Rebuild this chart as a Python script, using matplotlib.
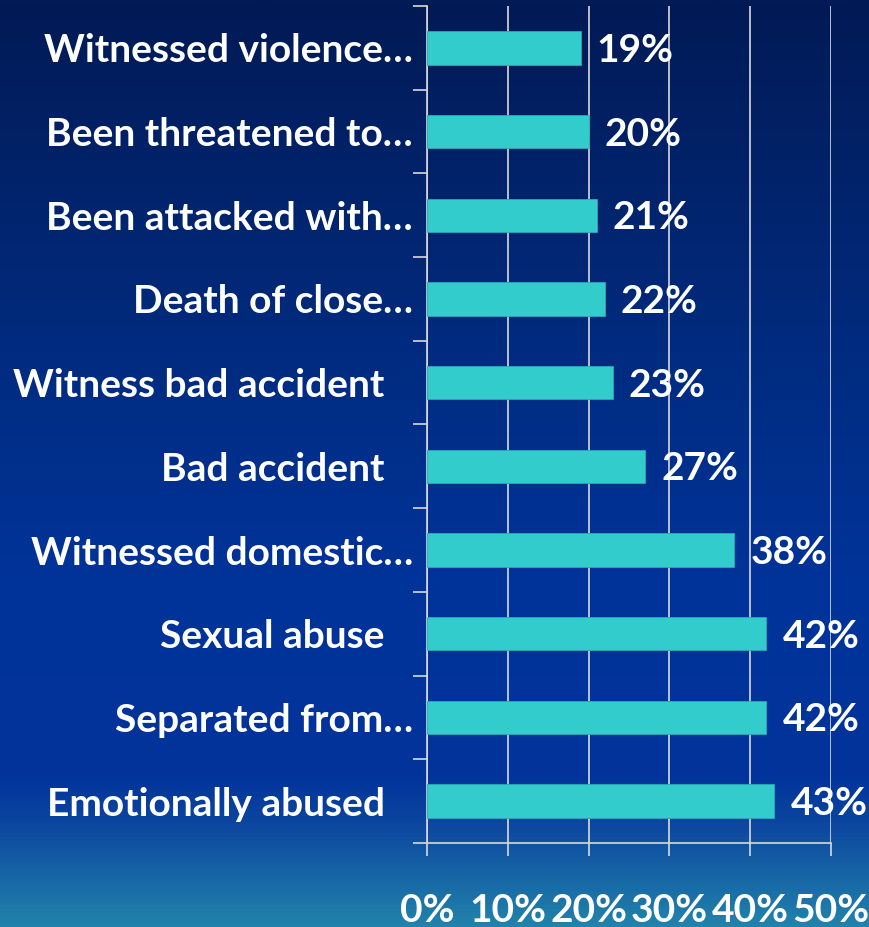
import numpy as np
import matplotlib
matplotlib.use('Agg')
import matplotlib.pyplot as plt
from matplotlib.colors import LinearSegmentedColormap
from matplotlib.ticker import FixedLocator, PercentFormatter

plt.rcParams['font.family'] = ['Lato', 'DejaVu Sans']
plt.rcParams['font.weight'] = 'bold'

# Trauma experiences, listed top to bottom
categories = [
    'Witnessed violence\u2026',
    'Been threatened to\u2026',
    'Been attacked with\u2026',
    'Death of close\u2026',
    'Witness bad accident   ',
    'Bad accident   ',
    'Witnessed domestic\u2026',
    'Sexual abuse   ',
    'Separated from\u2026',
    'Emotionally abused   ',
]
percents = [19, 20, 21, 22, 23, 27, 38, 42, 42, 43]
x_ticks = [0, 10, 20, 30, 40, 50]

bar_color = '#33CCCC'
line_color = '#D9D9D9'
font_size = 28

fig = plt.figure(figsize=(8.7, 9.27), dpi=100)

# Vertical gradient backdrop: navy at the top, royal blue, then teal at the bottom
bg = fig.add_axes([0, 0, 1, 1], zorder=-10)
bg_cmap = LinearSegmentedColormap.from_list('bg', [
    (0.00, '#021a55'),
    (0.35, '#012a7c'),
    (0.62, '#003399'),
    (0.84, '#02349c'),
    (0.89, '#0c469f'),
    (1.00, '#2183ab'),
])
grad = np.linspace(0, 1, 512).reshape(-1, 1)
bg.imshow(grad, aspect='auto', cmap=bg_cmap, extent=[0, 1, 0, 1], origin='upper')
bg.set_axis_off()

ax = fig.add_axes([427 / 870, 1 - 843 / 927, 404 / 870, 837 / 927])
ax.set_facecolor('none')

y = np.arange(len(categories))
ax.barh(y, percents, height=0.4, color=bar_color, edgecolor='#2aa9b4',
        linewidth=0.6, zorder=3)

for yi, p in zip(y, percents):
    ax.text(p + 2.0, yi + 0.03, f'{p}%', color='white', fontsize=font_size,
            fontweight='bold', va='center', ha='left', zorder=4,
            clip_on=False)

ax.set_xlim(0, 50)
ax.set_ylim(len(categories) - 0.5, -0.5)

# x axis: gridlines and percent labels well below the plot
ax.set_xticks(x_ticks)
ax.xaxis.set_major_formatter(PercentFormatter(decimals=0))
ax.grid(axis='x', color=line_color, linewidth=1.2, zorder=1)
ax.tick_params(axis='x', colors=line_color, length=9, width=1.2,
               direction='out', pad=27, labelsize=font_size, labelcolor='white')

# y axis: labels at category centres, tick marks at boundaries
ax.set_yticks(y)
ax.set_yticklabels(categories)
ax.tick_params(axis='y', which='major', length=0, pad=10, labelsize=font_size,
               labelcolor='white')
ax.yaxis.set_minor_locator(FixedLocator(np.arange(-0.5, len(categories), 1)))
ax.tick_params(axis='y', which='minor', length=10, width=1.2,
               color=line_color, direction='out')

for side in ['top', 'right']:
    ax.spines[side].set_visible(False)
for side in ['left', 'bottom']:
    ax.spines[side].set_color(line_color)
    ax.spines[side].set_linewidth(1.2)

fig.savefig('out.png', dpi=100)
